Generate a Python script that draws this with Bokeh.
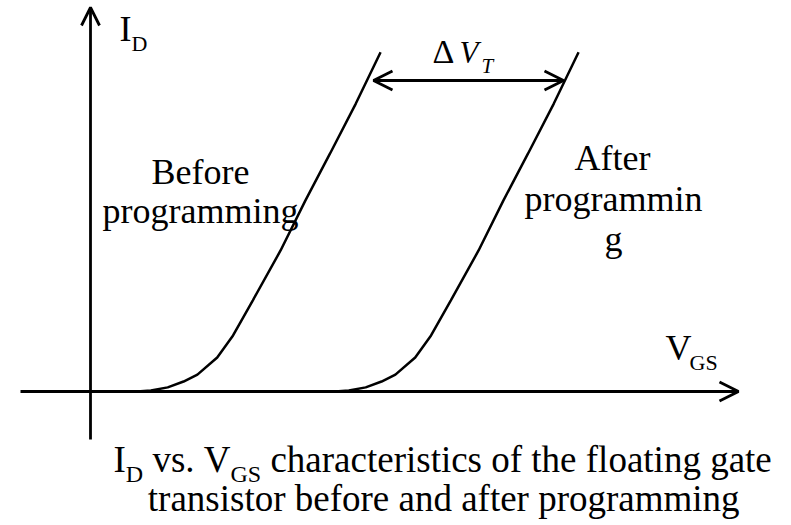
from bokeh.plotting import figure
from bokeh.models import Range1d, Arrow, OpenHead
from bokeh.core.properties import value
from bokeh.embed import file_html
from bokeh.resources import INLINE

# ---------------- data (V_GS in V, I_D in arbitrary units) ----------------
vgs_before = [0.47, 0.61, 0.78, 0.94, 1.08, 1.28, 1.44, 1.64, 1.92, 2.17, 2.42, 2.68, 2.93]
id_before = [0.00, 0.03, 0.12, 0.29, 0.49, 0.99, 1.63, 2.65, 4.10, 5.55, 6.92, 8.37, 9.86]
vgs_after = [2.47, 2.61, 2.78, 2.94, 3.08, 3.28, 3.44, 3.64, 3.92, 4.17, 4.42, 4.68, 4.93]
id_after = [0.00, 0.03, 0.12, 0.29, 0.49, 0.99, 1.63, 2.65, 4.10, 5.55, 6.92, 8.37, 9.86]

label_before = ["Before", "programming"]
label_after = ["After", "programmin", "g"]
caption_line2 = "transistor before and after programming"

# ---------------- layout ----------------
W, H = 791, 525
OX, OY = 90.0, 391.0          # picture pixel of the origin
KX, KY = 99.0, 34.4           # pixels per unit
BASE_FIX = 0.36               # em shift so that the text baseline lands where wanted


def X(px):
    return (px - OX) / KX


def Y(py):
    return (OY - py) / KY


p = figure(width=W, height=H, output_backend="svg", toolbar_location=None,
           x_range=Range1d(X(0), X(W)), y_range=Range1d(Y(H), Y(0)),
           min_border=0)
p.axis.visible = False
p.grid.visible = False
p.outline_line_color = None
p.background_fill_color = "white"
p.border_fill_color = "white"

FONT = value("Liberation Serif")


def put(px, py, s, size, style="normal", align="left"):
    p.text(x=[X(px)], y=[Y(py - BASE_FIX * size)], text=[s], text_font=FONT,
           text_font_size=f"{size}px", text_font_style=style,
           text_align=align, text_baseline="alphabetic", text_color="black")


# Times / Liberation Serif advance widths (per 1000 em)
TW = {' ': 250, '.': 250, 'a': 444, 'b': 500, 'c': 444, 'd': 500, 'e': 444,
      'f': 333, 'g': 500, 'h': 500, 'i': 278, 'l': 278, 'm': 778, 'n': 500,
      'o': 500, 'p': 500, 'r': 333, 's': 389, 't': 278, 'v': 500, 'D': 722,
      'G': 722, 'I': 333, 'S': 556, 'V': 722}


def tw(s, size):
    return sum(TW.get(c, 500) for c in s) * size / 1000.0


# ---------------- axes with open arrow heads ----------------
AX_LW = 2.8
p.add_layout(Arrow(x_start=X(20), y_start=0, x_end=X(738), y_end=0,
                   line_width=AX_LW, line_color="black",
                   end=OpenHead(size=19, line_width=AX_LW, line_color="black")))
p.add_layout(Arrow(x_start=0, y_start=Y(439), x_end=0, y_end=Y(7),
                   line_width=AX_LW, line_color="black",
                   end=OpenHead(size=18, line_width=AX_LW, line_color="black")))

# ---------------- curves ----------------
p.line(vgs_before, id_before, line_width=2.5, line_color="black")
p.line(vgs_after, id_after, line_width=2.5, line_color="black")

# ---------------- delta V_T arrow ----------------
p.add_layout(Arrow(x_start=X(373), y_start=Y(80), x_end=X(563), y_end=Y(80),
                   line_width=AX_LW, line_color="black",
                   start=OpenHead(size=19, line_width=AX_LW, line_color="black"),
                   end=OpenHead(size=19, line_width=AX_LW, line_color="black")))
put(432, 63, "\u0394", 34)
put(459, 63, "V", 31, "italic")
put(481, 73, "T", 21, "italic")

# ---------------- axis labels ----------------
put(119, 41, "I", 36)
put(131, 51, "D", 22)
put(665, 360, "V", 36)
put(689, 370, "GS", 22)

# ---------------- curve labels ----------------
put(200, 184, label_before[0], 36, align="center")
put(200, 223, label_before[1], 36, align="center")
put(612, 170, label_after[0], 36, align="center")
put(613, 211, label_after[1], 36, align="center")
put(613, 251, label_after[2], 36, align="center")

# ---------------- caption ----------------
CS, SS = 37, 24
x0, base = 113.0, 472.0
segs = [("I", CS, 0, 0.0), ("D", SS, 10, 0.0), ("vs.", CS, 0, 1.0),
        ("V", CS, 0, 1.0), ("GS", SS, 10, 0.0),
        ("characteristics of the floating gate", CS, 0, 1.0)]
cx = x0
for s, size, dy, gap in segs:
    cx += gap * tw(" ", CS)
    put(cx, base + dy, s, size)
    cx += tw(s, size)
put((x0 + cx) / 2.0 + 1, 511, caption_line2, CS, align="center")

open("out.html", "w").write(file_html(p, INLINE))
